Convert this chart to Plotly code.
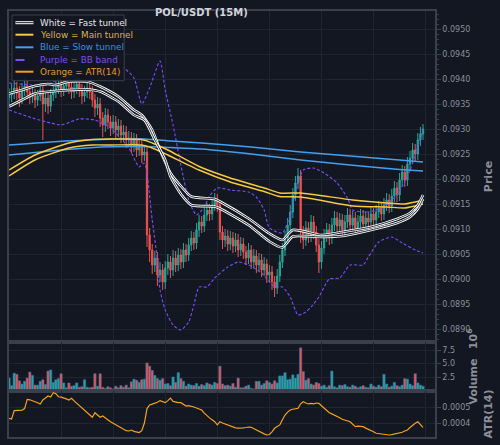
import plotly.graph_objects as go
from plotly.subplots import make_subplots

# ---------------- data ----------------
idx = list(range(160))

opens = [0.09362, 0.09368, 0.09374, 0.09382, 0.09372, 0.09362, 0.09378, 0.09386, 0.09374, 0.09364,
         0.09370, 0.09358, 0.09366, 0.09378, 0.09350, 0.09362, 0.09346, 0.09368, 0.09374, 0.09382,
         0.09388, 0.09378, 0.09386, 0.09392, 0.09384, 0.09374, 0.09382, 0.09390, 0.09378, 0.09366,
         0.09374, 0.09382, 0.09374, 0.09358, 0.09342, 0.09350, 0.09322, 0.09308, 0.09328, 0.09314,
         0.09302, 0.09314, 0.09298, 0.09306, 0.09288, 0.09294, 0.09278, 0.09282, 0.09268, 0.09278,
         0.09258, 0.09266, 0.09248, 0.09254, 0.09088, 0.09058, 0.09028, 0.09042, 0.09008, 0.09018,
         0.08994, 0.09022, 0.09034, 0.09018, 0.09042, 0.09028, 0.09048, 0.09034, 0.09058, 0.09048,
         0.09068, 0.09082, 0.09072, 0.09098, 0.09114, 0.09106, 0.09128, 0.09138, 0.09130, 0.09148,
         0.09158, 0.09148, 0.09094, 0.09078, 0.09086, 0.09070, 0.09082, 0.09066, 0.09078, 0.09058,
         0.09070, 0.09054, 0.09042, 0.09058, 0.09034, 0.09046, 0.09028, 0.09038, 0.09018, 0.09030,
         0.09008, 0.09014, 0.08994, 0.08982, 0.09006, 0.09034, 0.09058, 0.09082, 0.09108, 0.09134,
         0.09168, 0.09192, 0.09206, 0.09094, 0.09078, 0.09102, 0.09086, 0.09114, 0.09094, 0.09068,
         0.09034, 0.09062, 0.09086, 0.09098, 0.09082, 0.09108, 0.09122, 0.09106, 0.09118, 0.09098,
         0.09114, 0.09128, 0.09108, 0.09122, 0.09102, 0.09114, 0.09126, 0.09110, 0.09122, 0.09114,
         0.09130, 0.09118, 0.09134, 0.09142, 0.09130, 0.09148, 0.09158, 0.09146, 0.09166, 0.09182,
         0.09168, 0.09198, 0.09214, 0.09198, 0.09230, 0.09242, 0.09258, 0.09250, 0.09278, 0.09290]

closes = [0.09368, 0.09374, 0.09382, 0.09372, 0.09362, 0.09378, 0.09386, 0.09374, 0.09364, 0.09370,
          0.09358, 0.09366, 0.09378, 0.09350, 0.09362, 0.09346, 0.09368, 0.09374, 0.09382, 0.09388,
          0.09378, 0.09386, 0.09392, 0.09384, 0.09374, 0.09382, 0.09390, 0.09378, 0.09366, 0.09374,
          0.09382, 0.09374, 0.09358, 0.09342, 0.09350, 0.09322, 0.09308, 0.09328, 0.09314, 0.09302,
          0.09314, 0.09298, 0.09306, 0.09288, 0.09294, 0.09278, 0.09282, 0.09268, 0.09278, 0.09258,
          0.09266, 0.09248, 0.09254, 0.09088, 0.09058, 0.09028, 0.09042, 0.09008, 0.09018, 0.08994,
          0.09022, 0.09034, 0.09018, 0.09042, 0.09028, 0.09048, 0.09034, 0.09058, 0.09048, 0.09068,
          0.09082, 0.09072, 0.09098, 0.09114, 0.09106, 0.09128, 0.09138, 0.09130, 0.09148, 0.09158,
          0.09148, 0.09094, 0.09078, 0.09086, 0.09070, 0.09082, 0.09066, 0.09078, 0.09058, 0.09070,
          0.09054, 0.09042, 0.09058, 0.09034, 0.09046, 0.09028, 0.09038, 0.09018, 0.09030, 0.09008,
          0.09014, 0.08994, 0.08982, 0.09006, 0.09034, 0.09058, 0.09082, 0.09108, 0.09134, 0.09168,
          0.09192, 0.09206, 0.09094, 0.09078, 0.09102, 0.09086, 0.09114, 0.09094, 0.09068, 0.09034,
          0.09062, 0.09086, 0.09098, 0.09082, 0.09108, 0.09122, 0.09106, 0.09118, 0.09098, 0.09114,
          0.09128, 0.09108, 0.09122, 0.09102, 0.09114, 0.09126, 0.09110, 0.09122, 0.09114, 0.09130,
          0.09118, 0.09134, 0.09142, 0.09130, 0.09148, 0.09158, 0.09146, 0.09166, 0.09182, 0.09168,
          0.09198, 0.09214, 0.09198, 0.09230, 0.09242, 0.09258, 0.09250, 0.09278, 0.09290, 0.09300]

highs = [0.09382, 0.09390, 0.09396, 0.09394, 0.09386, 0.09392, 0.09402, 0.09398, 0.09386, 0.09384,
         0.09380, 0.09378, 0.09392, 0.09390, 0.09374, 0.09374, 0.09380, 0.09388, 0.09396, 0.09402,
         0.09400, 0.09398, 0.09406, 0.09404, 0.09396, 0.09394, 0.09404, 0.09402, 0.09390, 0.09386,
         0.09396, 0.09394, 0.09386, 0.09370, 0.09364, 0.09362, 0.09334, 0.09342, 0.09340, 0.09326,
         0.09328, 0.09326, 0.09320, 0.09318, 0.09308, 0.09306, 0.09296, 0.09294, 0.09292, 0.09290,
         0.09280, 0.09278, 0.09268, 0.09266, 0.09102, 0.09070, 0.09056, 0.09054, 0.09034, 0.09030,
         0.09036, 0.09050, 0.09046, 0.09058, 0.09056, 0.09062, 0.09060, 0.09072, 0.09070, 0.09082,
         0.09096, 0.09094, 0.09112, 0.09128, 0.09126, 0.09142, 0.09152, 0.09150, 0.09162, 0.09172,
         0.09170, 0.09158, 0.09106, 0.09100, 0.09098, 0.09096, 0.09094, 0.09092, 0.09090, 0.09084,
         0.09082, 0.09066, 0.09072, 0.09068, 0.09060, 0.09058, 0.09052, 0.09050, 0.09044, 0.09040,
         0.09028, 0.09026, 0.09006, 0.09020, 0.09048, 0.09072, 0.09096, 0.09122, 0.09148, 0.09182,
         0.09206, 0.09222, 0.09218, 0.09106, 0.09116, 0.09114, 0.09128, 0.09126, 0.09106, 0.09080,
         0.09076, 0.09100, 0.09112, 0.09110, 0.09122, 0.09136, 0.09134, 0.09132, 0.09130, 0.09128,
         0.09142, 0.09140, 0.09136, 0.09134, 0.09128, 0.09140, 0.09138, 0.09136, 0.09134, 0.09144,
         0.09142, 0.09148, 0.09156, 0.09154, 0.09162, 0.09172, 0.09170, 0.09180, 0.09196, 0.09194,
         0.09212, 0.09228, 0.09226, 0.09244, 0.09256, 0.09272, 0.09270, 0.09292, 0.09304, 0.09310]

lows = [0.09348, 0.09354, 0.09360, 0.09358, 0.09344, 0.09350, 0.09366, 0.09360, 0.09350, 0.09352,
        0.09342, 0.09346, 0.09356, 0.09278, 0.09334, 0.09330, 0.09334, 0.09356, 0.09362, 0.09370,
        0.09364, 0.09366, 0.09374, 0.09370, 0.09360, 0.09362, 0.09370, 0.09364, 0.09350, 0.09354,
        0.09362, 0.09360, 0.09344, 0.09324, 0.09328, 0.09304, 0.09284, 0.09294, 0.09300, 0.09286,
        0.09290, 0.09282, 0.09284, 0.09272, 0.09274, 0.09262, 0.09264, 0.09252, 0.09254, 0.09244,
        0.09246, 0.09232, 0.09236, 0.09064, 0.09034, 0.09010, 0.09014, 0.08986, 0.08994, 0.08978,
        0.08980, 0.09008, 0.09002, 0.09006, 0.09014, 0.09016, 0.09020, 0.09022, 0.09034, 0.09036,
        0.09056, 0.09058, 0.09060, 0.09084, 0.09092, 0.09094, 0.09116, 0.09116, 0.09118, 0.09136,
        0.09134, 0.09078, 0.09060, 0.09064, 0.09056, 0.09058, 0.09052, 0.09054, 0.09044, 0.09046,
        0.09040, 0.09028, 0.09030, 0.09020, 0.09022, 0.09012, 0.09016, 0.09004, 0.09006, 0.08992,
        0.08994, 0.08978, 0.08964, 0.08970, 0.08994, 0.09022, 0.09046, 0.09070, 0.09096, 0.09122,
        0.09156, 0.09180, 0.09072, 0.09060, 0.09066, 0.09072, 0.09074, 0.09080, 0.09054, 0.09012,
        0.09020, 0.09050, 0.09074, 0.09068, 0.09070, 0.09096, 0.09092, 0.09094, 0.09084, 0.09086,
        0.09102, 0.09094, 0.09096, 0.09088, 0.09090, 0.09102, 0.09096, 0.09098, 0.09100, 0.09102,
        0.09104, 0.09106, 0.09122, 0.09116, 0.09118, 0.09136, 0.09132, 0.09134, 0.09154, 0.09154,
        0.09156, 0.09186, 0.09184, 0.09186, 0.09218, 0.09230, 0.09236, 0.09238, 0.09266, 0.09278]

volume_m = [2.3, 0.9, 3.2, 3.0, 1.8, 1.2, 1.7, 2.3, 3.4, 2.8,
            1.0, 1.0, 1.7, 2.0, 1.1, 3.6, 3.8, 1.5, 2.0, 2.2,
            3.1, 1.4, 0.5, 1.4, 0.8, 0.9, 1.4, 0.6, 0.7, 2.0,
            0.6, 0.5, 0.6, 3.1, 0.8, 3.1, 0.6, 0.4, 0.7, 0.5,
            0.3, 0.8, 0.5, 0.9, 0.6, 1.0, 0.5, 1.6, 2.1, 1.9,
            1.5, 2.0, 2.1, 5.1, 4.5, 3.7, 2.8, 2.2, 1.9, 2.2,
            1.2, 1.3, 0.9, 2.5, 1.5, 3.3, 2.2, 1.7, 0.8, 1.2,
            1.0, 0.9, 1.3, 0.8, 1.1, 0.9, 1.4, 1.2, 1.0, 1.5,
            1.3, 4.5, 1.2, 0.9, 1.0, 0.8, 1.3, 0.6, 2.3, 0.5,
            0.5, 0.8, 1.0, 0.4, 0.3, 1.7, 1.7, 1.0, 1.3, 1.8,
            1.5, 1.2, 1.8, 1.4, 2.7, 2.7, 3.3, 2.0, 2.1, 2.9,
            2.3, 3.0, 7.9, 3.5, 1.9, 2.2, 1.2, 1.0, 1.5, 1.3,
            0.8, 1.0, 0.6, 0.9, 3.6, 0.7, 0.5, 1.0, 0.9, 1.1,
            0.7, 0.6, 1.0, 0.8, 0.5, 0.7, 0.9, 0.6, 0.5, 1.2,
            0.8, 0.6, 1.0, 0.7, 3.0, 1.2, 0.6, 0.8, 1.5, 0.9,
            0.7, 1.0, 2.2, 2.1, 1.2, 0.9, 3.1, 1.4, 1.0, 0.8]

atr14 = [0.000429, 0.000425, 0.000477, 0.000479, 0.000481, 0.000481, 0.000490, 0.000548, 0.000545, 0.000540,
         0.000535, 0.000527, 0.000519, 0.000544, 0.000556, 0.000569, 0.000562, 0.000589, 0.000583, 0.000564,
         0.000562, 0.000558, 0.000551, 0.000544, 0.000554, 0.000538, 0.000523, 0.000508, 0.000492, 0.000478,
         0.000464, 0.000450, 0.000436, 0.000464, 0.000450, 0.000436, 0.000444, 0.000430, 0.000419, 0.000408,
         0.000398, 0.000388, 0.000380, 0.000373, 0.000362, 0.000352, 0.000350, 0.000356, 0.000348, 0.000344,
         0.000340, 0.000352, 0.000400, 0.000490, 0.000513, 0.000518, 0.000523, 0.000530, 0.000540, 0.000533,
         0.000527, 0.000540, 0.000556, 0.000535, 0.000530, 0.000527, 0.000527, 0.000515, 0.000506, 0.000509,
         0.000506, 0.000500, 0.000494, 0.000488, 0.000481, 0.000462, 0.000444, 0.000432, 0.000420, 0.000408,
         0.000388, 0.000408, 0.000400, 0.000394, 0.000388, 0.000380, 0.000373, 0.000370, 0.000368, 0.000367,
         0.000370, 0.000372, 0.000375, 0.000373, 0.000364, 0.000356, 0.000348, 0.000339, 0.000332, 0.000325,
         0.000328, 0.000345, 0.000367, 0.000378, 0.000388, 0.000420, 0.000450, 0.000468, 0.000481, 0.000486,
         0.000490, 0.000492, 0.000520, 0.000533, 0.000525, 0.000519, 0.000522, 0.000520, 0.000525, 0.000523,
         0.000508, 0.000492, 0.000478, 0.000464, 0.000457, 0.000450, 0.000444, 0.000433, 0.000423, 0.000418,
         0.000413, 0.000408, 0.000392, 0.000377, 0.000380, 0.000378, 0.000377, 0.000368, 0.000362, 0.000356,
         0.000345, 0.000336, 0.000333, 0.000331, 0.000330, 0.000328, 0.000325, 0.000327, 0.000330, 0.000333,
         0.000336, 0.000342, 0.000350, 0.000356, 0.000372, 0.000388, 0.000398, 0.000408, 0.000388, 0.000373]

# Fast tunnel (white)
fast_up_x = [0, 5, 10, 15, 18, 23, 30, 35, 42, 48, 51, 55, 58, 62, 66, 70, 79, 81, 92, 100, 105, 109, 120, 128, 139, 149, 154, 157, 159]
fast_up = [0.09371, 0.09378, 0.09386, 0.09390, 0.09388, 0.09395, 0.09395, 0.09385, 0.09365, 0.09338,
           0.09328, 0.09298, 0.09258, 0.09212, 0.09186, 0.09165, 0.09160, 0.09155, 0.09121, 0.09091,
           0.09078, 0.09098, 0.09088, 0.09094, 0.09104, 0.09120, 0.09132, 0.09148, 0.09168]
fast_lo_x = [0, 5, 10, 16, 23, 30, 35, 42, 48, 52, 56, 60, 62, 66, 70, 79, 81, 92, 100, 105, 109, 120, 128, 139, 149, 154, 157, 159]
fast_lo = [0.09345, 0.09358, 0.09371, 0.09375, 0.09378, 0.09379, 0.09375, 0.09355, 0.09328, 0.09318,
           0.09278, 0.09238, 0.09205, 0.09170, 0.09148, 0.09145, 0.09141, 0.09108, 0.09075, 0.09063,
           0.09085, 0.09084, 0.09086, 0.09098, 0.09112, 0.09124, 0.09140, 0.09160]

# Main tunnel (yellow)
main_x = [0, 10, 23, 32, 39, 51, 55, 61, 73, 85, 98, 104, 112, 132, 145, 152, 159]
main_up = [0.09218, 0.09248, 0.09272, 0.09279, 0.09280, 0.09279, 0.09272, 0.09258, 0.09225, 0.09202,
           0.09182, 0.09172, 0.09172, 0.09158, 0.09152, 0.09150, 0.09158]
main_lo = [0.09206, 0.09238, 0.09262, 0.09268, 0.09268, 0.09268, 0.09262, 0.09248, 0.09218, 0.09194,
           0.09175, 0.09165, 0.09164, 0.09146, 0.09144, 0.09142, 0.09150]

# Slow tunnel (blue)
slow_x = [0, 16, 35, 52, 62, 74, 93, 112, 131, 150, 159]
slow_up = [0.09268, 0.09274, 0.09279, 0.09280, 0.09276, 0.09272, 0.09264, 0.09254, 0.09246, 0.09238, 0.09234]
slow_lo = [0.09248, 0.09256, 0.09264, 0.09265, 0.09263, 0.09260, 0.09250, 0.09238, 0.09228, 0.09219, 0.09216]

# Bollinger bands (purple)
bb_up_x = [0, 14, 20, 28, 35, 41, 44, 48, 51, 54, 58, 60, 63, 66, 69, 72, 75, 77, 80, 85, 92, 95, 98, 100,
           105, 108, 111, 113, 117, 121, 126, 130, 132, 138, 143, 149, 154, 159]
bb_up = [0.09392, 0.09388, 0.09402, 0.09410, 0.09414, 0.09422, 0.09422, 0.09402, 0.09350, 0.09382,
         0.09436, 0.09378, 0.09308, 0.09228, 0.09158, 0.09128, 0.09144, 0.09166, 0.09182, 0.09178,
         0.09174, 0.09164, 0.09138, 0.09102, 0.09092, 0.09128, 0.09192, 0.09218, 0.09222, 0.09212,
         0.09192, 0.09162, 0.09138, 0.09134, 0.09142, 0.09168, 0.09218, 0.09298]
bb_lo_x = [0, 9, 16, 20, 27, 33, 39, 46, 50, 52, 55, 57, 58, 60, 63, 66, 69, 71, 73, 76, 79, 84, 88, 92,
           97, 102, 105, 108, 111, 114, 116, 119, 123, 127, 131, 136, 138, 142, 147, 151, 156, 159]
bb_lo = [0.09338, 0.09322, 0.09312, 0.09308, 0.09320, 0.09318, 0.09302, 0.09262, 0.09224, 0.09232,
         0.09118, 0.09038, 0.08978, 0.08938, 0.08908, 0.08898, 0.08914, 0.08948, 0.08984, 0.08984,
         0.09002, 0.09024, 0.09034, 0.09028, 0.09012, 0.08984, 0.08984, 0.08964, 0.08928, 0.08934,
         0.08944, 0.08964, 0.09000, 0.09002, 0.09028, 0.09028, 0.09044, 0.09074, 0.09084, 0.09072,
         0.09058, 0.09052]

legend_labels = ["White = Fast tunnel", "Yellow = Main tunnel", "Blue = Slow tunnel",
                 "Purple = BB band", "Orange = ATR(14)"]
title_text = "POL/USDT (15M)"

# ---------------- styling ----------------
BG = "#131722"
GRID = "#1f2431"
AXLINE = "#3a3f4c"
TICK = "#8b8f99"
UP, DOWN = "#26a69a", "#ef5350"
WHITE, YELLOW, BLUE, PURPLE, ORANGE = "#ffffff", "#f7c841", "#42a0ee", "#7a4dff", "#f5a11c"
legend_text_colors = ["#e6e6e6", "#dcb43c", "#3f8fd8", "#7b4ef0", "#e39a2a"]
FONT = "DejaVu Sans"

W, H = 500, 445
ML, MT, MR, MB = 7, 11, 65, 8
PW, PH = W - ML - MR, H - MT - MB


def px_x(px):
    return (px - ML) / PW


def px_y(py):
    return (MT + PH - py) / PH


fig = make_subplots(rows=3, cols=1, shared_xaxes=True, vertical_spacing=0)

# candles
fig.add_trace(go.Candlestick(
    x=idx, open=opens, high=highs, low=lows, close=closes,
    increasing=dict(line=dict(color=UP, width=1), fillcolor=UP),
    decreasing=dict(line=dict(color=DOWN, width=1), fillcolor=DOWN),
    whiskerwidth=0, showlegend=False, hoverinfo="skip"), row=1, col=1)


def add_line(x, y, color, width, dash=None, row=1):
    fig.add_trace(go.Scatter(x=x, y=y, mode="lines", showlegend=False, hoverinfo="skip",
                             line=dict(color=color, width=width, dash=dash, shape="spline",
                                       smoothing=0.6)), row=row, col=1)


# BB bands
add_line(bb_up_x, bb_up, PURPLE, 1.1, dash="3px,2px")
add_line(bb_lo_x, bb_lo, PURPLE, 1.1, dash="3px,2px")
# slow tunnel
add_line(slow_x, slow_up, BLUE, 1.5)
add_line(slow_x, slow_lo, BLUE, 1.5)
# main tunnel
add_line(main_x, main_up, YELLOW, 1.4)
add_line(main_x, main_lo, YELLOW, 1.4)
# fast tunnel (white outlined look)
for xs, ys in ((fast_up_x, fast_up), (fast_lo_x, fast_lo)):
    add_line(xs, ys, WHITE, 2.6)
    add_line(xs, ys, BG, 0.9)

# volume
vol_colors = [UP if c >= o else DOWN for o, c in zip(opens, closes)]
fig.add_trace(go.Bar(x=idx, y=volume_m, marker=dict(color=vol_colors,
                     line=dict(color="#3d6fa8", width=0.6)),
                     showlegend=False, hoverinfo="skip"), row=2, col=1)

# ATR
fig.add_trace(go.Scatter(x=idx, y=atr14, mode="lines", showlegend=False, hoverinfo="skip",
                         line=dict(color=ORANGE, width=1.2)), row=3, col=1)

axis_common = dict(showline=True, mirror=True, linecolor=AXLINE, linewidth=1.5,
                   gridcolor=GRID, gridwidth=1, zeroline=False)

for r in (1, 2, 3):
    fig.update_xaxes(range=[0, 163.6], tick0=0, dtick=20, showticklabels=False, ticks="",
                     rangeslider_visible=False, **axis_common, row=r, col=1)

ytick = dict(side="right", ticks="outside", ticklen=4, tickcolor=AXLINE,
             tickfont=dict(family=FONT, size=8, color=TICK))
ytitle_font = dict(family=FONT, size=11, color=TICK, weight="bold")

fig.update_yaxes(range=[0.08874, 0.09536], dtick=0.0005, tick0=0.089, tickformat=".4f",
                 title=dict(text="Price", font=ytitle_font),
                 minor=dict(dtick=0.0001, ticks="outside", ticklen=2, tickcolor=AXLINE, showgrid=False),
                 domain=[px_y(342), 1], **ytick, **axis_common, row=1, col=1)
fig.update_yaxes(range=[-0.09, 8.98], tickvals=[2.5, 5.0, 7.5], ticktext=["2.5", "5.0", "7.5"],
                 title=dict(text="Volume\u2002 10<sup>6</sup>", font=ytitle_font),
                 domain=[px_y(391), px_y(342)], **ytick, **axis_common, row=2, col=1)
fig.update_yaxes(range=[0.0003125, 0.0006], tickvals=[0.0004, 0.0005], tickformat=".4f",
                 title=dict(text="ATR(14)", font=ytitle_font),
                 domain=[0, px_y(391)], **ytick, **axis_common, row=3, col=1)

# manual legend (box, symbols, coloured labels)
shapes = [dict(type="rect", xref="paper", yref="paper", x0=px_x(10), x1=px_x(122.7),
               y0=px_y(80.7), y1=px_y(15), fillcolor="rgba(19,23,34,0.92)",
               line=dict(color="#3a3f4c", width=1), layer="above")]
row_y = [22.7, 34.7, 47.3, 60.0, 71.7]
sym = [(WHITE, 3.0, None), (YELLOW, 2.0, None), (BLUE, 2.0, None), (PURPLE, 2.0, "dash"), (ORANGE, 2.0, None)]
for ry, (col, wd, ds) in zip(row_y, sym):
    shapes.append(dict(type="line", xref="paper", yref="paper", x0=px_x(13.5), x1=px_x(31.5),
                       y0=px_y(ry), y1=px_y(ry), line=dict(color=col, width=wd, dash=ds), layer="above"))
shapes.append(dict(type="line", xref="paper", yref="paper", x0=px_x(13.5), x1=px_x(31.5),
                   y0=px_y(row_y[0]), y1=px_y(row_y[0]), line=dict(color=BG, width=1), layer="above"))

annotations = [dict(xref="paper", yref="paper", x=px_x(36.5), y=px_y(ry), text=lab,
                    showarrow=False, xanchor="left", yanchor="middle",
                    font=dict(family=FONT, size=8.8, color=tc))
               for ry, lab, tc in zip(row_y, legend_labels, legend_text_colors)]
annotations.append(dict(xref="paper", yref="paper", x=px_x(200), y=px_y(12), text="<b>" + title_text + "</b>",
                        showarrow=False, xanchor="center", yanchor="middle",
                        font=dict(family=FONT, size=10, color="#d1d4dc")))

fig.update_layout(width=W, height=H, margin=dict(l=ML, r=MR, t=MT, b=MB),
                  paper_bgcolor=BG, plot_bgcolor=BG, showlegend=False, bargap=0.12,
                  font=dict(family=FONT, color=TICK), shapes=shapes, annotations=annotations,
                  hovermode=False)

fig.write_html("out.html")
